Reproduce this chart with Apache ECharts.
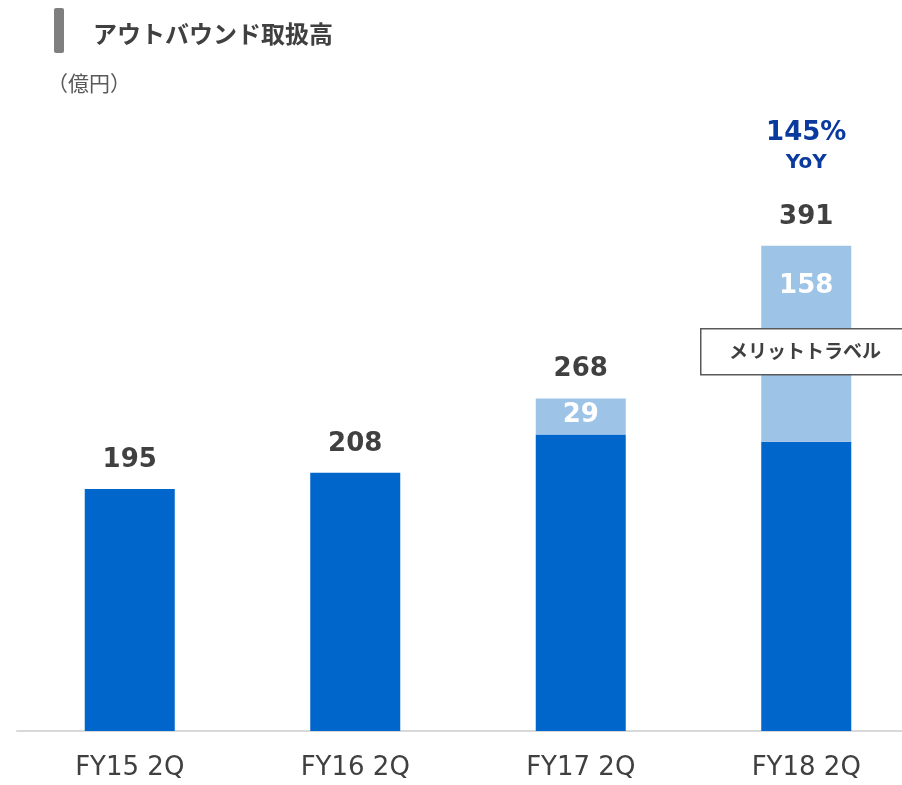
<!DOCTYPE html>
<html>
<head>
<meta charset="utf-8">
<script src="https://cdn.jsdelivr.net/npm/echarts@6/dist/echarts.min.js"></script>
<style>
  html, body { margin: 0; padding: 0; background: #fff; }
  #chart { width: 902px; height: 785px; }
</style>
</head>
<body>
<div id="chart"></div>
<script>
const categories = ['FY15 2Q', 'FY16 2Q', 'FY17 2Q', 'FY18 2Q'];
const baseValues = [195, 208, 239, 233];
const meritValues = [null, null, 29, 158];
const totals = [195, 208, 268, 391];
const yoyLabels = ['', '', '', '145%'];

const numFont = '"DejaVu Sans", Verdana, sans-serif';
const jpFont = '"Noto Sans CJK JP", sans-serif';

const chart = echarts.init(document.getElementById('chart'));

// per-bar offset for the white labels inside the light part
const meritLabelDist = [0, 0, 4, 27];

const option = {
  animation: false,
  grid: {
    left: 17,
    width: 902,
    top: 110.5,
    bottom: 54,
    outerBoundsMode: 'none'
  },
  xAxis: {
    type: 'category',
    data: categories,
    axisTick: {show: false},
    axisLine: {lineStyle: {color: '#d9d9d9', width: 2}},
    axisLabel: {
      color: '#404040',
      fontSize: 26,
      fontFamily: numFont,
      margin: 24
    }
  },
  yAxis: {
    type: 'value',
    min: 0,
    max: 500,
    show: false,
    splitLine: {show: false}
  },
  series: [
    {
      type: 'bar',
      stack: 'total',
      data: baseValues,
      barWidth: 90,
      itemStyle: {color: '#0066cc'}
    },
    {
      type: 'bar',
      stack: 'total',
      barWidth: 90,
      itemStyle: {color: '#9dc3e6'},
      data: meritValues.map((v, i) => ({
        value: v,
        label: {
          show: v != null,
          position: 'insideTop',
          distance: meritLabelDist[i],
          color: '#fff',
          fontSize: 26,
          fontWeight: 'bold',
          fontFamily: numFont
        }
      }))
    },
    {
      type: 'scatter',
      data: totals,
      symbolSize: 0,
      itemStyle: {opacity: 1},
      label: {
        show: true,
        position: 'top',
        distance: 16,
        color: '#404040',
        opacity: 1,
        fontSize: 26,
        fontWeight: 'bold',
        fontFamily: numFont
      }
    },
    {
      type: 'scatter',
      data: totals.map((v, i) => ({value: v, yoy: yoyLabels[i]})),
      symbolSize: 0,
      itemStyle: {opacity: 1},
      label: {
        show: true,
        position: 'top',
        distance: 69,
        opacity: 1,
        formatter: p => p.data.yoy ? '{a|' + p.data.yoy + '}\n{b|YoY}' : '',
        rich: {
          a: {color: '#0a3a9e', fontSize: 26, fontWeight: 'bold', fontFamily: numFont, lineHeight: 32},
          b: {color: '#0a3a9e', fontSize: 20, fontWeight: 'bold', fontFamily: numFont, lineHeight: 28}
        }
      }
    }
  ],
  graphic: [
    {type: 'rect', left: 54, top: 8, shape: {width: 10, height: 45, r: 2}, style: {fill: '#7f7f7f'}},
    {type: 'text', left: 93, top: 22, style: {text: 'アウトバウンド取扱高', fill: '#404040', font: 'bold 24px ' + jpFont}},
    {type: 'text', left: 47, top: 73, style: {text: '（億円）', fill: '#595959', font: '21px ' + jpFont}},
    {type: 'rect', left: 700, top: 328, z: 100, shape: {width: 210, height: 46}, style: {fill: '#fff', stroke: '#595959', lineWidth: 1.5}},
    {type: 'text', left: 729, top: 341, z: 101, style: {text: 'メリットトラベル', fill: '#404040', font: 'bold 19px ' + jpFont}}
  ]
};
chart.setOption(option);
</script>
</body>
</html>
